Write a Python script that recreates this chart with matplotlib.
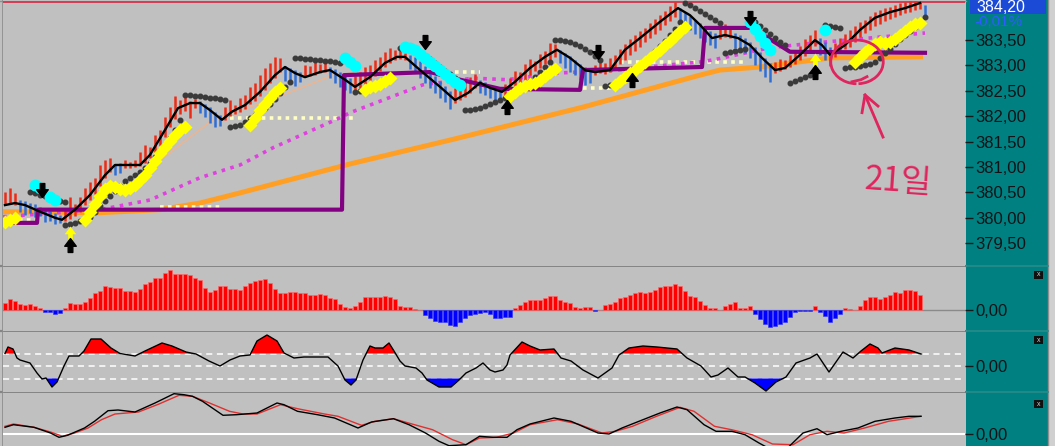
import matplotlib
matplotlib.use('Agg')
import matplotlib.pyplot as plt
from matplotlib.path import Path
from matplotlib.patches import Rectangle, Arc

plt.rcParams['font.family'] = ['Liberation Sans', 'DejaVu Sans']

W, H = 1055, 446
BG = '#c0c0c0'
TEAL = '#008080'
UP_RED = '#ee2a14'
DN_BLUE = '#2e6ed6'

# ---------------- main price panel ----------------
# trend colour runs (r = up bars, b = down bars), one entry per run
trend_runs = [('r', 3), ('b', 9), ('r', 10), ('b', 2), ('r', 15), ('b', 5), ('r', 12),
              ('b', 4), ('r', 5), ('b', 5), ('r', 11), ('b', 9), ('r', 5), ('b', 5),
              ('r', 11), ('b', 7), ('r', 17), ('b', 8), ('r', 3), ('b', 8), ('r', 9),
              ('b', 3), ('r', 18), ('b', 1)]

bar_hi = [380.51, 380.58, 380.49,
          380.35, 380.33, 380.29, 380.27, 380.21, 380.18, 380.14, 380.10, 380.06,
          380.20, 380.41, 380.27, 380.41, 380.59, 380.70, 380.79, 381.04, 381.14, 381.18,
          381.06, 381.08,
          381.14, 381.10, 381.14, 381.30, 381.44, 381.40, 381.63, 381.73, 381.98, 382.18,
          382.40, 382.32, 382.42, 382.30, 382.34,
          382.30, 382.24, 382.18, 382.09, 382.03,
          382.18, 382.32, 382.22, 382.36, 382.42, 382.58, 382.66, 382.82, 382.95, 383.05,
          383.17, 383.15,
          382.99, 382.95, 382.91, 382.87,
          383.01, 382.99, 383.07, 383.03, 383.09,
          382.97, 382.93, 382.87, 382.83, 382.75,
          382.79, 382.87, 382.97, 383.01, 383.11, 383.17, 383.27, 383.35, 383.31, 383.37, 383.25,
          383.21, 383.17, 383.09, 382.99, 382.89, 382.79, 382.70, 382.60, 382.50,
          382.56, 382.62, 382.72, 382.77, 382.83,
          382.72, 382.68, 382.62, 382.58, 382.52,
          382.64, 382.75, 382.89, 382.87, 383.03, 383.13, 383.09, 383.23, 383.29, 383.44, 383.42,
          383.31, 383.25, 383.19, 383.11, 383.03, 382.97, 382.93,
          383.01, 383.07, 383.05, 383.15, 383.21, 383.33, 383.42, 383.52, 383.60, 383.68,
          383.74, 383.84, 383.92, 383.99, 384.07, 384.17, 384.25,
          384.13, 384.05, 383.97, 383.90, 383.84, 383.76, 383.68, 383.64,
          383.78, 383.82, 383.74,
          383.64, 383.60, 383.54, 383.46, 383.37, 383.27, 383.15, 383.05,
          383.07, 383.13, 383.11, 383.21, 383.31, 383.39, 383.52, 383.60, 383.70,
          383.54, 383.46, 383.37,
          383.44, 383.54, 383.62, 383.70, 383.78, 383.86, 383.90, 383.97, 384.05, 384.09,
          384.13, 384.15, 384.19, 384.23, 384.25, 384.27, 384.28, 384.27,
          384.19]

bar_lo = [380.25, 380.29, 380.25,
          380.12, 380.06, 380.10, 380.02, 380.04, 379.92, 379.94, 379.88, 379.90,
          379.94, 379.98, 380.04, 380.12, 380.25, 380.35, 380.47, 380.62, 380.79, 380.90,
          380.84, 380.88,
          380.98, 380.98, 381.00, 381.02, 381.08, 381.18, 381.28, 381.42, 381.60, 381.78,
          381.95, 382.05, 382.10, 381.97, 382.16,
          382.07, 381.99, 381.87, 381.79, 381.81,
          381.93, 382.01, 382.05, 382.09, 382.14, 382.24, 382.30, 382.40, 382.52, 382.66,
          382.76, 382.88,
          382.70, 382.64, 382.60, 382.68,
          382.77, 382.79, 382.81, 382.85, 382.87,
          382.75, 382.66, 382.58, 382.52, 382.46,
          382.52, 382.56, 382.64, 382.72, 382.80, 382.90, 382.98, 383.05, 383.11, 383.13, 383.11,
          382.93, 382.85, 382.75, 382.66, 382.56, 382.46, 382.36, 382.28, 382.14,
          382.26, 382.32, 382.38, 382.46, 382.56,
          382.46, 382.42, 382.36, 382.30, 382.34,
          382.38, 382.44, 382.52, 382.62, 382.72, 382.81, 382.89, 382.95, 383.03, 383.09, 383.17,
          383.05, 382.95, 382.87, 382.81, 382.72, 382.62, 382.66,
          382.81, 382.85, 382.83, 382.87, 382.93, 383.03, 383.11, 383.21, 383.29, 383.37,
          383.46, 383.54, 383.62, 383.70, 383.80, 383.88, 383.96,
          383.82, 383.74, 383.70, 383.62, 383.54, 383.46, 383.40, 383.35,
          383.52, 383.56, 383.54,
          383.35, 383.29, 383.25, 383.15, 383.01, 382.89, 382.77, 382.68,
          382.85, 382.89, 382.93, 382.97, 383.03, 383.11, 383.19, 383.29, 383.39,
          383.21, 383.11, 382.99,
          383.17, 383.27, 383.33, 383.37, 383.46, 383.56, 383.64, 383.70, 383.78, 383.82,
          383.88, 383.92, 383.96, 384.00, 384.03, 384.05, 384.09, 384.11,
          383.99]

# black moving average (bar index, price)
ma_x = [0, 2, 4, 7, 10, 11.4, 14, 17, 20, 22, 27, 29, 32, 34.6, 37, 39, 41, 43.4, 45.4, 48,
        51, 54, 56, 58, 60, 63, 65, 68, 70, 73, 76, 78.4, 80, 83, 87, 90, 92.6, 95, 97, 99.4,
        102, 105, 108, 110.4, 113, 116, 118, 121, 124, 127, 131, 134.6, 137, 139, 141.4, 144,
        146.6, 149, 151.4, 154, 156, 159, 162, 163.4, 165, 168, 171, 174, 177, 180, 183]
ma_p = [380.25, 380.29, 380.25, 380.12, 380.00, 379.96, 380.16, 380.45, 380.84, 381.04,
        381.04, 381.24, 381.73, 382.16, 382.26, 382.26, 382.12, 381.93, 382.09, 382.22,
        382.48, 382.81, 382.97, 382.85, 382.77, 382.87, 382.91, 382.72, 382.58, 382.77,
        383.05, 383.17, 383.17, 382.91, 382.58, 382.32, 382.46, 382.66, 382.56, 382.48,
        382.68, 382.95, 383.17, 383.31, 383.15, 382.91, 382.87, 382.91, 383.31, 383.54,
        383.86, 384.13, 383.99, 383.80, 383.54, 383.60, 383.54, 383.40, 383.15, 382.91,
        382.95, 383.21, 383.50, 383.40, 383.21, 383.40, 383.70, 383.94, 384.05, 384.13, 384.23]

# parabolic SAR dots: (first bar index, values)
sar_segments = [
    (0, [379.92, 379.93]),
    (5, [380.51, 380.49, 380.45, 380.43, 380.39, 380.37, 380.33, 380.31]),
    (12, [379.86, 379.88, 379.90, 379.94, 379.98, 380.02, 380.12, 380.24, 380.33, 380.43,
          380.53, 380.63, 380.73, 380.79, 380.84, 380.90, 380.98, 381.08, 381.20, 381.32,
          381.44, 381.57, 381.73, 381.93]),
    (36, [382.42, 382.42, 382.40, 382.40, 382.38, 382.36, 382.36, 382.34, 382.32]),
    (45, [381.79, 381.81, 381.83, 381.89, 381.97, 382.03, 382.09, 382.16, 382.24, 382.34,
          382.46, 382.58, 382.68]),
    (58, [383.15, 383.15, 383.13, 383.13, 383.11, 383.11, 383.09, 383.09, 383.07, 383.05]),
    (70, [382.48, 382.50, 382.52, 382.54]),
    (79, [383.35, 383.36, 383.35, 383.31, 383.25, 383.19, 383.13, 383.05, 382.97, 382.89,
          382.83, 382.75, 382.68]),
    (92, [382.12, 382.12, 382.14, 382.16, 382.20, 382.24, 382.28, 382.32, 382.36, 382.40,
          382.46, 382.54, 382.62, 382.70, 382.77, 382.87, 382.97, 383.07]),
    (110, [383.50, 383.50, 383.48, 383.46, 383.42, 383.38, 383.33, 383.27, 383.19, 383.11]),
    (120, [382.60, 382.62, 382.66, 382.72, 382.77, 382.85, 382.93, 383.01, 383.09, 383.19,
           383.29, 383.38, 383.48, 383.60, 383.72, 383.86]),
    (136, [384.23, 384.19, 384.13, 384.07, 384.01, 383.96, 383.90, 383.84]),
    (144, [383.25, 383.27, 383.29, 383.31, 383.33]),
    (150, [383.86, 383.78, 383.70, 383.62, 383.54, 383.46, 383.40]),
    (157, [382.66, 382.70, 382.74, 382.77, 382.81, 382.85]),
    (164, [383.80, 383.78, 383.76, 383.74]),
    (168, [382.95, 382.97, 382.97, 382.99, 383.01, 383.03, 383.07, 383.15, 383.25, 383.33,
           383.42, 383.52, 383.60, 383.68, 383.76, 383.86, 383.96]),
]

# thick yellow signal marks
yellow_segments = [
    (0, [379.92, 379.96, 380.00]),
    (16, [379.96, 380.12, 380.27, 380.43, 380.57, 380.63, 380.61, 380.57, 380.55, 380.59,
          380.65, 380.75, 380.84, 380.98, 381.12, 381.28, 381.40, 381.51, 381.63, 381.73,
          381.79]),
    (49, [381.83, 381.97, 382.12, 382.24, 382.36, 382.48, 382.56]),
    (72, [382.52, 382.58, 382.60, 382.64, 382.70, 382.75]),
    (101, [382.40, 382.48, 382.56, 382.60, 382.64, 382.66, 382.72, 382.79, 382.87, 382.93]),
    (122, [382.62, 382.70, 382.77, 382.85, 382.91, 382.99, 383.07, 383.15, 383.23, 383.31,
           383.40, 383.48, 383.58, 383.68, 383.76]),
    (170, [383.07, 383.17, 383.27, 383.35, 383.42, 383.46, 383.44, 383.46, 383.52, 383.60,
           383.68, 383.76, 383.82, 383.84]),
]
yellow_pin_x = [13, 162]
yellow_pin_p = [379.70, 383.11]

# thick cyan signal marks
cyan_segments = [
    (6, [380.65, 380.59]),
    (9, [380.41, 380.35]),
    (68, [383.15, 383.07, 382.99]),
    (80, [383.36, 383.35, 383.31, 383.23, 383.15, 383.07, 382.99, 382.91, 382.83, 382.75,
          382.68, 382.62]),
    (149, [383.86, 383.72, 383.58, 383.44, 383.31]),
    (164, [383.70]),
]

arrow_dn_x = [7.4, 84, 118.6, 149]
arrow_dn_p = [380.55, 383.46, 383.27, 383.94]
arrow_up_x = [13, 100.4, 125.4, 162]
arrow_up_p = [379.47, 382.18, 382.72, 382.87]

purple_x = [-0.4, 6.4, 6.6, 67.4, 67.8, 85, 91, 99, 115, 115.6, 139.4, 140, 149.4, 157, 184]
purple_p = [379.90, 379.90, 380.16, 380.16, 382.81, 382.87, 382.72, 382.54, 382.52, 382.91,
            382.97, 383.74, 383.74, 383.27, 383.25]

orange_x = [-0.4, 19, 31, 39, 47, 69, 89, 115.6, 139, 143, 151, 165, 183.6]
orange_p = [380.12, 380.10, 380.16, 380.29, 380.49, 381.06, 381.53, 382.18, 382.81, 382.91,
            382.97, 383.15, 383.17]

magenta_x = [-0.4, 19, 29, 39, 47, 53.6, 67, 69, 83.6, 93.6, 100.4, 110.4, 122.4, 139, 141.6,
             153, 161.6, 184]
magenta_p = [380.02, 380.16, 380.35, 380.79, 381.04, 381.38, 381.97, 382.07, 382.62, 382.75,
             382.72, 382.85, 382.91, 383.07, 383.11, 383.35, 383.44, 383.64]

salmon_a_x = [29, 41, 55.6, 65.6, 71]
salmon_a_p = [380.98, 381.89, 382.42, 382.81, 382.87]
salmon_b_x = [127, 133.6, 136.4]
salmon_b_p = [383.07, 383.50, 383.66]

# pale dotted reference levels: (start index, end index, price)
cream_levels = [(-0.4, 6.4, 379.96), (31, 43, 380.21), (45, 70.4, 381.97),
                (90, 95, 382.87), (115.6, 121.6, 382.56), (123, 148, 383.07)]

price_ticks = [379.5, 380.0, 380.5, 381.0, 381.5, 382.0, 382.5, 383.0, 383.5]
last_price = '384,20'
change_pct = '-0,01%'
note_text = '21일'

# ---------------- histogram panel ----------------
hist = [7, 11, 9, 6, 5, 6, 4, 2, -2, -2,
        -4, -3, 2, 7, 6, 6, 8, 12, 17, 19,
        24, 23, 22, 22, 19, 19, 18, 21, 26, 28,
        32, 32, 37, 40, 36, 36, 36, 35, 32, 30,
        22, 18, 20, 24, 24, 21, 21, 20, 24, 27,
        29, 30, 31, 27, 21, 17, 17, 18, 18, 17,
        17, 15, 15, 16, 15, 12, 11, 6, 3, 2,
        4, 8, 13, 13, 13, 13, 14, 13, 11, 4,
        3, 3, 1, 0.5, -5, -8, -11, -12, -12, -15,
        -16, -12, -8, -5, -4, -3, -2, -4, -8, -8,
        -7, -7, 2, 5, 8, 10, 10, 10, 12, 14,
        14, 10, 8, 7, 3, 2, 3, 3, -1, 0.5,
        5, 6, 8, 12, 13, 15, 17, 18, 17, 18,
        20, 23, 24, 24, 26, 24, 19, 14, 13, 9,
        5, 2, 2, 0.5, 4, 6, 8, 2, 2, 4,
        -4, -9, -14, -17, -16, -14, -12, -7, -2, -1,
        -1, -1, 4, -2, -6, -12, -8, -4, 2, 1,
        0.5, 4, 10, 13, 13, 11, 13, 15, 18, 17,
        20, 20, 19, 15]

# ---------------- oscillator panel ----------------
osc_band = 12.5
osc_x = [0, 0.6, 1.6, 2.4, 3, 5, 6.4, 7.4, 8.2, 9.4, 10.4, 11.8, 12.8, 14.8, 15.8, 17.2, 19.2,
         21.2, 23, 26, 28, 31.4, 33.4, 36.2, 38.2, 40.8, 43, 45, 47, 49, 50.4, 52.4, 54.4,
         55.8, 57.8, 59.8, 64.6, 66.6, 68, 69.2, 70.2, 71.6, 73, 74, 75.6, 76.8, 77.8, 79, 80,
         82.2, 83.4, 84.4, 86.8, 89.2, 90.8, 92.2, 94.2, 95.6, 97, 98, 99.6, 100.4, 101, 103.4,
         105, 107, 109.8, 111.2, 113.2, 115.6, 118.6, 121.4, 122.8, 124.8, 127.6, 130.4, 134.4,
         136.4, 139.2, 141.2, 142.6, 144.6, 146.6, 148, 150, 152.2, 154.2, 156.2, 158.2, 161,
         162.4, 164.8, 167.6, 169.6, 171.2, 173, 174.6, 175.4, 178, 180.8, 183.2]
osc_v = [12.5, 19, 17, 8, 6, 3, -7, -13, -12, -21, -16, 0, 10, 10, 15, 27, 27, 18, 12.5, 10,
         15, 23, 20, 14, 12, 5, 0, 6, 10, 11, 25, 31, 25, 13, 8, 9, 9, 0, -14, -19, -14, 6, 20,
         18, 18, 23, 15, 5, 0, -2, -7, -14, -21, -21, -14, -7, -2, 3, -4, -6, -4, 1, 11, 24,
         20, 16, 17, 8, 5, -4, -12, -2, 11, 18, 20, 19, 17, 8, 0, -11, -9, -2, -11, -11, -17,
         -25, -16, -11, 3, 8, 12, -6, 14, 8, 15, 22, 18, 13, 18, 16, 12]

# ---------------- signal-line panel ----------------
p3_black_x = [0, 1.7, 5.8, 9.1, 10.8, 12.5, 15.9, 17.9, 20.6, 22.6, 26, 30, 33.8, 35.8, 37.5,
              39.5, 43.6, 46.3, 50.4, 54.4, 55.8, 58.5, 62.5, 65.9, 70.6, 73.3, 77.7, 80.8,
              84.1, 86.8, 88.8, 92.2, 94.9, 97.6, 100.4, 102.4, 105, 109.8, 113.2, 118.6,
              120.8, 123.4, 127.6, 131, 134.4, 136.4, 139.8, 142.2, 145.4, 148, 150.8, 153,
              156.5, 159.6, 162.4, 164.4, 167.2, 170.6, 174, 178, 180.8, 183.2]
p3_black_v = [6.7, 9.3, 6.7, 1, -3.3, -1.3, 6, 12.7, 23.3, 24, 22, 31, 40.3, 39.3, 37.7, 32.7,
              18.7, 19.3, 21, 31, 29.3, 22.7, 19.3, 16, 6, 12, 15.3, 9.3, 1, -7.3, -11.7,
              -10.7, -2.3, -3.3, -3.3, 4.3, 10, 16, 12.7, 1, 0, 6, 14.3, 21, 27, 24.3, 9.3,
              2.7, 2.7, -0.7, -9, -15, -14, 1, 5.3, -0.7, 2.7, 6, 12.7, 16, 17.7, 17.7]
p3_red_x = [0, 1.7, 5.8, 9.1, 11.5, 13.9, 16.6, 19.3, 22, 26.7, 30.8, 34.8, 37.5, 40.9, 44.9,
            47.6, 50.4, 55.1, 58.5, 63.9, 66.6, 71.3, 74, 77.7, 81.4, 85.5, 89.5, 92.2, 94.9,
            98.3, 101.7, 105, 110.5, 114.6, 119.4, 122.1, 125.5, 130.3, 135, 137.8, 141.9,
            145.3, 149.4, 153.5, 157.6, 161, 164.4, 167.8, 171.9, 176.7, 183.2]
p3_red_v = [7.7, 10, 6.7, 2, -2.3, 1, 6, 14.3, 20, 22, 30, 38.7, 37.7, 31, 22.7, 20, 20, 29.3,
            25.3, 20, 17.7, 8.7, 12.7, 15.3, 10, 4.3, -5.7, -10.7, -4, -3.3, 1, 9.3, 14.3, 10,
            1, 2.7, 7.7, 17.7, 26.7, 22.7, 7.7, 4.3, -0.7, -10, -10.7, -0.7, 2.7, 1, 6, 12.7,
            17.7]


def fmt(v):
    return f'{v:.2f}'.replace('.', ',')


def arrow_path(up):
    s = -1 if up else 1
    verts = [(-0.3, 0.9 * s), (0.3, 0.9 * s), (0.3, 0.1 * s), (0.75, 0.1 * s), (0, -0.9 * s),
             (-0.75, 0.1 * s), (-0.3, 0.1 * s), (-0.3, 0.9 * s)]
    codes = [Path.MOVETO] + [Path.LINETO] * 6 + [Path.CLOSEPOLY]
    return Path(verts, codes)


fig = plt.figure(figsize=(W / 100, H / 100), dpi=100)
fig.patch.set_facecolor(BG)


def px_axes(x0, y0, x1, y1, **kw):
    return fig.add_axes([x0 / W, 1 - y1 / H, (x1 - x0) / W, (y1 - y0) / H], **kw)


# teal price-scale strip behind everything
ui = px_axes(0, 0, W, H, zorder=-5)
ui.set_xlim(0, W)
ui.set_ylim(H, 0)
ui.axis('off')
ui.add_patch(Rectangle((966, 0), 82, H, color=TEAL, lw=0))
ui.add_patch(Rectangle((1048, 0), 7, H, color='#d0d0d0', lw=0))
ui.plot([1048, 1048], [0, H], color='#909090', lw=1)
ui.plot([0, 966], [0.5, 0.5], color='#909090', lw=1)
for yy in (266, 331, 392):
    ui.plot([0, 966], [yy, yy], color='#858585', lw=1.6)
    ui.plot([966, 1048], [yy, yy], color='#2a8c8c', lw=1.2)
ui.plot([2.5, 2.5], [0, H], color='#8c8c8c', lw=1.2)

panels = []
for (y0, y1) in [(0, 266), (267, 331), (332, 392), (393, 446)]:
    a = px_axes(3, y0, 965, y1)
    a.set_facecolor(BG)
    a.set_xlim(-0.4, 192)
    a.set_xticks([])
    for sp in a.spines.values():
        sp.set_visible(False)
    a.yaxis.tick_right()
    a.tick_params(axis='y', direction='out', length=6, width=1, color='#1a1a1a',
                  pad=1.5, labelsize=12, labelcolor='#101418')
    panels.append(a)
ax, axh, axo, ax3 = panels

# ---- main price chart ----
ax.set_ylim(379.05, 384.29)
ax.set_yticks(price_ticks)
ax.set_yticklabels([fmt(t) for t in price_ticks])
ax.axhline(384.25, color='#d8304c', lw=1.3, zorder=1)

ax.plot(orange_x, orange_p, color='#ffa024', lw=3.6, zorder=2, solid_capstyle='butt')
for x0, x1, p in cream_levels:
    ax.plot([x0, x1], [p, p], color='#ffffc4', lw=2.6, ls=(0, (1, 1.2)), zorder=2)
ax.plot(magenta_x, magenta_p, color='#e040e0', lw=2.6, ls=(0, (1, 1.5)), zorder=2)
ax.plot(salmon_a_x, salmon_a_p, color='#f0b48c', lw=1, zorder=2)
ax.plot(salmon_b_x, salmon_b_p, color='#f0b48c', lw=1, zorder=2)

bar_colors = []
for c, n in trend_runs:
    bar_colors += [UP_RED if c == 'r' else DN_BLUE] * n
bar_x = list(range(len(bar_hi)))
ax.vlines(bar_x, bar_lo, bar_hi, colors=bar_colors, lw=1.8, zorder=3)

ax.plot(purple_x, purple_p, color='#820082', lw=3, zorder=4)
ax.plot(ma_x, ma_p, color='black', lw=1.7, zorder=5)

for start, vals in sar_segments:
    ax.plot(range(start, start + len(vals)), vals, 'o', ms=3.3, color='#3a3a3a', zorder=6)
for start, vals in yellow_segments:
    ax.plot(range(start, start + len(vals)), vals, 'D', ms=7, color='#ffff00', mec='none',
            zorder=7)
ax.plot(yellow_pin_x, yellow_pin_p, ls='none', marker=arrow_path(True), ms=10,
        color='#ffff00', mec='none', zorder=7)
for start, vals in cyan_segments:
    ax.plot(range(start, start + len(vals)), vals, 'o', ms=8.5, color='#00ffff', mec='none',
            zorder=7)
ax.plot(arrow_dn_x, arrow_dn_p, ls='none', marker=arrow_path(False), ms=10, color='black',
        zorder=8)
ax.plot(arrow_up_x, arrow_up_p, ls='none', marker=arrow_path(True), ms=10, color='black',
        zorder=8)

# hand-drawn note
NOTE = '#e0245e'
ax.add_patch(Arc((170.4, 383.07), 10.5, 0.86, theta1=-55, theta2=255, color=NOTE, lw=2,
                 zorder=9))
ax.plot([169.4, 171.2, 172.4], [382.68, 382.72, 382.78], color=NOTE, lw=2, zorder=9)
ax.plot([172, 175.6], [382.42, 381.59], color=NOTE, lw=2, zorder=9)
ax.plot([171.4, 172, 174.6], [382.07, 382.42, 382.20], color=NOTE, lw=2, zorder=9)
ax.text(178.6, 380.7, note_text, color=NOTE, fontsize=24, rotation=-4, ha='center',
        va='center', family=['Noto Sans CJK KR', 'DejaVu Sans'], zorder=9)

# ---- histogram ----
axh.set_ylim(-21, 43)
axh.axhline(0, color='#8a8a8a', lw=1, zorder=1)
axh.bar(range(len(hist)), hist, width=0.82,
        color=['#ff0000' if v >= 0 else '#0000ff' for v in hist],
        edgecolor=['#ff6a6a' if v >= 0 else '#3030ff' for v in hist], lw=0.4, zorder=2)
axh.set_yticks([0])
axh.set_yticklabels([fmt(0)])

# ---- oscillator ----
axo.set_ylim(-26, 34)
for lv in (osc_band, 0, -osc_band):
    axo.axhline(lv, color='white', lw=1.1, ls=(0, (4, 3)), zorder=1)
axo.fill_between(osc_x, osc_v, osc_band, where=[v >= osc_band for v in osc_v],
                 interpolate=True, color='#ff0000', lw=0, zorder=2)
axo.fill_between(osc_x, osc_v, -osc_band, where=[v <= -osc_band for v in osc_v],
                 interpolate=True, color='#0000ff', lw=0, zorder=2)
axo.plot(osc_x, osc_v, color='black', lw=1, zorder=3)
axo.set_yticks([0])
axo.set_yticklabels([fmt(0)])

# ---- signal lines ----
ax3.set_ylim(-12, 41)
ax3.axhline(0, color='white', lw=1.5, zorder=1)
ax3.plot(p3_red_x, p3_red_v, color='#e03030', lw=1, zorder=2)
ax3.plot(p3_black_x, p3_black_v, color='black', lw=1, zorder=3)
ax3.set_yticks([0])
ax3.set_yticklabels([fmt(0)])

# ---- price box and icons on the scale ----
top = px_axes(0, 0, W, H, zorder=10)
top.set_xlim(0, W)
top.set_ylim(H, 0)
top.axis('off')
top.add_patch(Rectangle((970, 0), 76, 14, color='#1a4ad6', lw=0))
top.text(976, 7.5, last_price, color='white', fontsize=11.5, va='center', ha='left')
top.text(974, 22, change_pct, color='#2f5cff', fontsize=11, va='center', ha='left')
for iy in (271, 336, 400):
    top.add_patch(Rectangle((1034, iy), 9, 8, color='#101010', lw=0))
    top.text(1038.5, iy + 4, 'x', color='#d0d0d0', fontsize=5, ha='center', va='center')

fig.savefig('out.png', dpi=100, facecolor=BG)
